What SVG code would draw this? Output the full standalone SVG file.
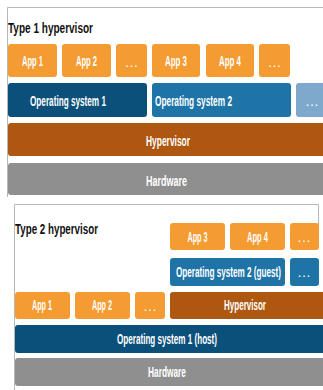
<svg xmlns="http://www.w3.org/2000/svg" width="323" height="390" viewBox="0 0 323 390">
<style>
.frame{fill:none;stroke:#b8b8b8;stroke-width:1}
.app{fill:#F49B32}
.os1{fill:#0B4F7B}
.os2{fill:#1E74A6}
.osx{fill:#7FA9CC}
.hyp{fill:#AD5710}
.hw{fill:#8F8F8F}
.t{font-family:"Liberation Sans",Arial,sans-serif;font-size:15.5px;font-weight:bold;fill:#ffffff}
.s{font-size:14px}
.d{font-family:"Liberation Sans",Arial,sans-serif;font-size:14px;fill:#ffffff;text-anchor:middle}
.title{font-family:"Liberation Sans",Arial,sans-serif;font-size:14px;font-weight:bold;fill:#111111}
</style>
<rect width="323" height="390" fill="#ffffff"/>
<g id="type1">
  <path class="frame" d="M7.5,197 V7.5 H323"/>
  <text class="title" transform="translate(8,33) scale(0.71,1)" textLength="119.7" lengthAdjust="spacingAndGlyphs">Type 1 hypervisor</text>
  <g id="t1-app1"><rect class="app" x="8" y="44" width="49" height="33" rx="3"/><text class="t" transform="translate(22,66.3) scale(0.524,1)" textLength="40.1" lengthAdjust="spacingAndGlyphs">App 1</text></g>
  <g id="t1-app2"><rect class="app" x="62" y="44" width="49" height="33" rx="3"/><text class="t" transform="translate(76,66.3) scale(0.524,1)" textLength="40.1" lengthAdjust="spacingAndGlyphs">App 2</text></g>
  <g id="t1-appx1"><rect class="app" x="116" y="44" width="31" height="33" rx="3"/><text class="d" x="131.5" y="66.5">…</text></g>
  <g id="t1-app3"><rect class="app" x="152" y="44" width="48" height="33" rx="3"/><text class="t" transform="translate(165,66.3) scale(0.524,1)" textLength="42" lengthAdjust="spacingAndGlyphs">App 3</text></g>
  <g id="t1-app4"><rect class="app" x="206" y="44" width="48" height="33" rx="3"/><text class="t" transform="translate(219,66.3) scale(0.524,1)" textLength="42" lengthAdjust="spacingAndGlyphs">App 4</text></g>
  <g id="t1-appx2"><rect class="app" x="259" y="44" width="31" height="33" rx="3"/><text class="d" x="274.5" y="66.5">…</text></g>
  <g id="t1-os1"><rect class="os1" x="8" y="83" width="139" height="34" rx="3"/><text class="t" transform="translate(30,105.5) scale(0.524,1)" textLength="145" lengthAdjust="spacingAndGlyphs">Operating system 1</text></g>
  <g id="t1-os2"><rect class="os2" x="152" y="83" width="139" height="34" rx="3"/><text class="t" transform="translate(155,105.5) scale(0.524,1)" textLength="147" lengthAdjust="spacingAndGlyphs">Operating system 2</text></g>
  <g id="t1-osx"><rect class="osx" x="296" y="83" width="32" height="34" rx="3"/><text class="d" x="312" y="105.5">…</text></g>
  <g id="t1-hyp"><rect class="hyp" x="8" y="123" width="320" height="33" rx="3"/><text class="t" transform="translate(146,146) scale(0.524,1)" textLength="84" lengthAdjust="spacingAndGlyphs">Hypervisor</text></g>
  <g id="t1-hw"><rect class="hw" x="8" y="163" width="320" height="32" rx="3"/><text class="t" transform="translate(146,185.5) scale(0.524,1)" textLength="78.2" lengthAdjust="spacingAndGlyphs">Hardware</text></g>
</g>
<g id="type2">
  <path class="frame" d="M14.5,390 V204.5 H318.5 V225"/>
  <text class="title" transform="translate(15,234) scale(0.71,1)" font-size="13.5" textLength="116.9" lengthAdjust="spacingAndGlyphs">Type 2 hypervisor</text>
  <g id="t2-app3"><rect class="app" x="170" y="223" width="55" height="27" rx="3"/><text class="t s" transform="translate(187.5,241.8) scale(0.58,1)" textLength="34.5" lengthAdjust="spacingAndGlyphs">App 3</text></g>
  <g id="t2-app4"><rect class="app" x="230" y="223" width="55" height="27" rx="3"/><text class="t s" transform="translate(247,241.8) scale(0.58,1)" textLength="36.2" lengthAdjust="spacingAndGlyphs">App 4</text></g>
  <g id="t2-appx2"><rect class="app" x="290" y="223" width="29" height="27" rx="3"/><text class="d" x="304" y="242">…</text></g>
  <g id="t2-os2"><rect class="os2" x="170" y="258" width="115" height="28" rx="3"/><text class="t s" transform="translate(176,276.8) scale(0.58,1)" textLength="181" lengthAdjust="spacingAndGlyphs">Operating system 2 (guest)</text></g>
  <g id="t2-osx"><rect class="os2" x="290" y="258" width="29" height="28" rx="3"/><text class="d" x="304" y="277">…</text></g>
  <g id="t2-app1"><rect class="app" x="15" y="292" width="55" height="27" rx="3"/><text class="t s" transform="translate(32,310.3) scale(0.58,1)" textLength="34.5" lengthAdjust="spacingAndGlyphs">App 1</text></g>
  <g id="t2-app2"><rect class="app" x="75" y="292" width="55" height="27" rx="3"/><text class="t s" transform="translate(92,310.3) scale(0.58,1)" textLength="34.5" lengthAdjust="spacingAndGlyphs">App 2</text></g>
  <g id="t2-appx1"><rect class="app" x="135" y="292" width="30" height="27" rx="3"/><text class="d" x="150" y="310.5">…</text></g>
  <g id="t2-hyp"><rect class="hyp" x="170" y="292" width="158" height="27" rx="3"/><text class="t s" transform="translate(224,309.8) scale(0.58,1)" textLength="72.4" lengthAdjust="spacingAndGlyphs">Hypervisor</text></g>
  <g id="t2-os1"><rect class="os1" x="15" y="325" width="313" height="28" rx="3"/><text class="t s" transform="translate(117,344.3) scale(0.58,1)" textLength="172.4" lengthAdjust="spacingAndGlyphs">Operating system 1 (host)</text></g>
  <g id="t2-hw"><rect class="hw" x="15" y="358" width="313" height="28" rx="3"/><text class="t s" transform="translate(148,377.3) scale(0.58,1)" textLength="65.5" lengthAdjust="spacingAndGlyphs">Hardware</text></g>
</g>
<g id="connectors"/>
</svg>
